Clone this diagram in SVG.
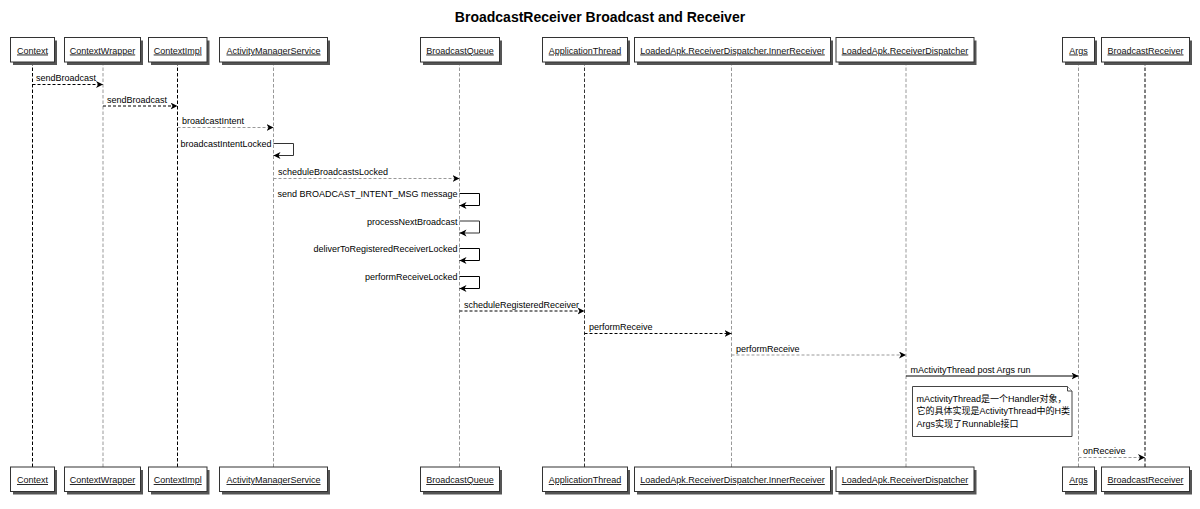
<svg xmlns="http://www.w3.org/2000/svg" width="1200" height="509" viewBox="0 0 1200 509">
<defs>
<style>
.bg{fill:#fff}
.title{font-family:"Liberation Sans",Arial,sans-serif;font-size:14px;font-weight:bold;text-anchor:middle;fill:#000}
.box{fill:#fff;stroke:#333;stroke-width:1}
.shadow{fill:#555}
.pl{font-family:"Liberation Sans",Arial,sans-serif;font-size:9px;text-anchor:middle;text-decoration:underline;fill:#111}
.life{fill:none;stroke-width:1;stroke-dasharray:3.5 2}
.k{stroke:#000}
.g{stroke:#999}
.d{stroke:#333}
.msg{fill:none;stroke-width:1}
.dash{stroke-dasharray:3 2}
.ml{font-family:"Liberation Sans",Arial,sans-serif;font-size:9px;fill:#000}
.end{text-anchor:end}
.note{fill:#fff;stroke:#444;stroke-width:1}
.nt{font-family:"Liberation Sans","Noto Sans CJK SC",sans-serif;font-size:9px;fill:#000}
</style>
<marker id="ah" markerUnits="userSpaceOnUse" markerWidth="8" markerHeight="8" refX="7" refY="3.5" orient="auto">
<path d="M0,0 L7,3.5 L0,7 L2,3.5 Z" fill="#000"/>
</marker>
</defs>
<rect class="bg" x="0" y="0" width="1200" height="509"/>
<text class="title" x="600" y="22">BroadcastReceiver Broadcast and Receiver</text>

<g id="Context">
<line class="life k" x1="32.5" y1="62" x2="32.5" y2="467"/>
<rect class="shadow" x="13" y="40.5" width="44" height="24.5"/>
<rect class="box" x="10.5" y="37.5" width="44" height="24.5"/>
<text class="pl" x="32.5" y="53.5">Context</text>
<rect class="shadow" x="13" y="470" width="44" height="24.5"/>
<rect class="box" x="10.5" y="467" width="44" height="24.5"/>
<text class="pl" x="32.5" y="483">Context</text>
</g>

<g id="ContextWrapper">
<line class="life g" x1="103" y1="62" x2="103" y2="467"/>
<rect class="shadow" x="67" y="40.5" width="76" height="24.5"/>
<rect class="box" x="64.5" y="37.5" width="76" height="24.5"/>
<text class="pl" x="102.5" y="53.5">ContextWrapper</text>
<rect class="shadow" x="67" y="470" width="76" height="24.5"/>
<rect class="box" x="64.5" y="467" width="76" height="24.5"/>
<text class="pl" x="102.5" y="483">ContextWrapper</text>
</g>

<g id="ContextImpl">
<line class="life k" x1="177.5" y1="62" x2="177.5" y2="467"/>
<rect class="shadow" x="151" y="40.5" width="58.5" height="24.5"/>
<rect class="box" x="148.5" y="37.5" width="58.5" height="24.5"/>
<text class="pl" x="177.7" y="53.5">ContextImpl</text>
<rect class="shadow" x="151" y="470" width="58.5" height="24.5"/>
<rect class="box" x="148.5" y="467" width="58.5" height="24.5"/>
<text class="pl" x="177.7" y="483">ContextImpl</text>
</g>

<g id="ActivityManagerService">
<line class="life g" x1="273.5" y1="62" x2="273.5" y2="467"/>
<rect class="shadow" x="222" y="40.5" width="108" height="24.5"/>
<rect class="box" x="219.5" y="37.5" width="108" height="24.5"/>
<text class="pl" x="273.5" y="53.5">ActivityManagerService</text>
<rect class="shadow" x="222" y="470" width="108" height="24.5"/>
<rect class="box" x="219.5" y="467" width="108" height="24.5"/>
<text class="pl" x="273.5" y="483">ActivityManagerService</text>
</g>

<g id="BroadcastQueue">
<line class="life g" x1="459.5" y1="62" x2="459.5" y2="467"/>
<rect class="shadow" x="423" y="40.5" width="79" height="24.5"/>
<rect class="box" x="420.5" y="37.5" width="79" height="24.5"/>
<text class="pl" x="460" y="53.5">BroadcastQueue</text>
<rect class="shadow" x="423" y="470" width="79" height="24.5"/>
<rect class="box" x="420.5" y="467" width="79" height="24.5"/>
<text class="pl" x="460" y="483">BroadcastQueue</text>
</g>

<g id="ApplicationThread">
<line class="life d" x1="584.5" y1="62" x2="584.5" y2="467"/>
<rect class="shadow" x="545" y="40.5" width="85" height="24.5"/>
<rect class="box" x="542.5" y="37.5" width="85" height="24.5"/>
<text class="pl" x="585" y="53.5">ApplicationThread</text>
<rect class="shadow" x="545" y="470" width="85" height="24.5"/>
<rect class="box" x="542.5" y="467" width="85" height="24.5"/>
<text class="pl" x="585" y="483">ApplicationThread</text>
</g>

<g id="InnerReceiver">
<line class="life g" x1="731.5" y1="62" x2="731.5" y2="467"/>
<rect class="shadow" x="637" y="40.5" width="196" height="24.5"/>
<rect class="box" x="634.5" y="37.5" width="196" height="24.5"/>
<text class="pl" x="732.5" y="53.5">LoadedApk.ReceiverDispatcher.InnerReceiver</text>
<rect class="shadow" x="637" y="470" width="196" height="24.5"/>
<rect class="box" x="634.5" y="467" width="196" height="24.5"/>
<text class="pl" x="732.5" y="483">LoadedApk.ReceiverDispatcher.InnerReceiver</text>
</g>

<g id="ReceiverDispatcher">
<line class="life g" x1="906" y1="62" x2="906" y2="467"/>
<rect class="shadow" x="838.5" y="40.5" width="138" height="24.5"/>
<rect class="box" x="836" y="37.5" width="138" height="24.5"/>
<text class="pl" x="905" y="53.5">LoadedApk.ReceiverDispatcher</text>
<rect class="shadow" x="838.5" y="470" width="138" height="24.5"/>
<rect class="box" x="836" y="467" width="138" height="24.5"/>
<text class="pl" x="905" y="483">LoadedApk.ReceiverDispatcher</text>
</g>

<g id="Args">
<line class="life g" x1="1078.5" y1="62" x2="1078.5" y2="467"/>
<rect class="shadow" x="1065" y="40.5" width="32" height="24.5"/>
<rect class="box" x="1062.5" y="37.5" width="32" height="24.5"/>
<text class="pl" x="1078.5" y="53.5">Args</text>
<rect class="shadow" x="1065" y="470" width="32" height="24.5"/>
<rect class="box" x="1062.5" y="467" width="32" height="24.5"/>
<text class="pl" x="1078.5" y="483">Args</text>
</g>

<g id="BroadcastReceiver">
<line class="life k" x1="1145" y1="62" x2="1145" y2="467"/>
<rect class="shadow" x="1104" y="40.5" width="88" height="24.5"/>
<rect class="box" x="1101.5" y="37.5" width="88" height="24.5"/>
<text class="pl" x="1145.5" y="53.5">BroadcastReceiver</text>
<rect class="shadow" x="1104" y="470" width="88" height="24.5"/>
<rect class="box" x="1101.5" y="467" width="88" height="24.5"/>
<text class="pl" x="1145.5" y="483">BroadcastReceiver</text>
</g>

<g id="connectors">
<line class="msg dash k" x1="32.5" y1="84.5" x2="103" y2="84.5" marker-end="url(#ah)"/>
<text class="ml" x="36" y="81.3">sendBroadcast</text>

<line class="msg dash k" x1="103" y1="106" x2="177.5" y2="106" marker-end="url(#ah)"/>
<text class="ml" x="107" y="102.8">sendBroadcast</text>

<line class="msg dash g" x1="177.5" y1="127.5" x2="273.5" y2="127.5" marker-end="url(#ah)"/>
<text class="ml" x="182" y="124.3">broadcastIntent</text>

<polyline class="msg d" points="273.5,143.5 293.5,143.5 293.5,155.5 273.5,155.5" marker-end="url(#ah)"/>
<text class="ml end" x="271.5" y="147">broadcastIntentLocked</text>

<line class="msg dash g" x1="273.5" y1="178.5" x2="459.5" y2="178.5" marker-end="url(#ah)"/>
<text class="ml" x="278" y="175.2">scheduleBroadcastsLocked</text>

<polyline class="msg k" points="459.5,193.5 479.5,193.5 479.5,205.5 459.5,205.5" marker-end="url(#ah)"/>
<text class="ml end" x="457.5" y="197">send BROADCAST_INTENT_MSG message</text>

<polyline class="msg d" points="459.5,221 479.5,221 479.5,233 459.5,233" marker-end="url(#ah)"/>
<text class="ml end" x="457.5" y="224.5">processNextBroadcast</text>

<polyline class="msg k" points="459.5,248.5 479.5,248.5 479.5,260.5 459.5,260.5" marker-end="url(#ah)"/>
<text class="ml end" x="457.5" y="252">deliverToRegisteredReceiverLocked</text>

<polyline class="msg k" points="459.5,276.5 479.5,276.5 479.5,288.5 459.5,288.5" marker-end="url(#ah)"/>
<text class="ml end" x="457.5" y="280">performReceiveLocked</text>

<line class="msg dash k" x1="459.5" y1="311" x2="584.5" y2="311" marker-end="url(#ah)"/>
<text class="ml" x="464" y="307.7">scheduleRegisteredReceiver</text>

<line class="msg dash k" x1="584.5" y1="333.5" x2="731.5" y2="333.5" marker-end="url(#ah)"/>
<text class="ml" x="589" y="330.2">performReceive</text>

<line class="msg dash g" x1="731.5" y1="355" x2="906" y2="355" marker-end="url(#ah)"/>
<text class="ml" x="736" y="351.7">performReceive</text>

<line class="msg k" x1="906" y1="376" x2="1078.5" y2="376" marker-end="url(#ah)"/>
<text class="ml" x="910.5" y="372.7">mActivityThread post Args run</text>

<line class="msg dash g" x1="1078.5" y1="457.5" x2="1145" y2="457.5" marker-end="url(#ah)"/>
<text class="ml" x="1083" y="454.2">onReceive</text>
</g>

<g id="note">
<path class="note" d="M912.5,386.5 H1067.5 L1072,391 V436.5 H912.5 Z"/>
<path class="note" d="M1067.5,386.5 V391 H1072" fill="none"/>
<text class="nt" x="916.5" y="401.5">mActivityThread是一个Handler对象，</text>
<text class="nt" x="916.5" y="414">它的具体实现是ActivityThread中的H类</text>
<text class="nt" x="916.5" y="426.5">Args实现了Runnable接口</text>
</g>
</svg>
